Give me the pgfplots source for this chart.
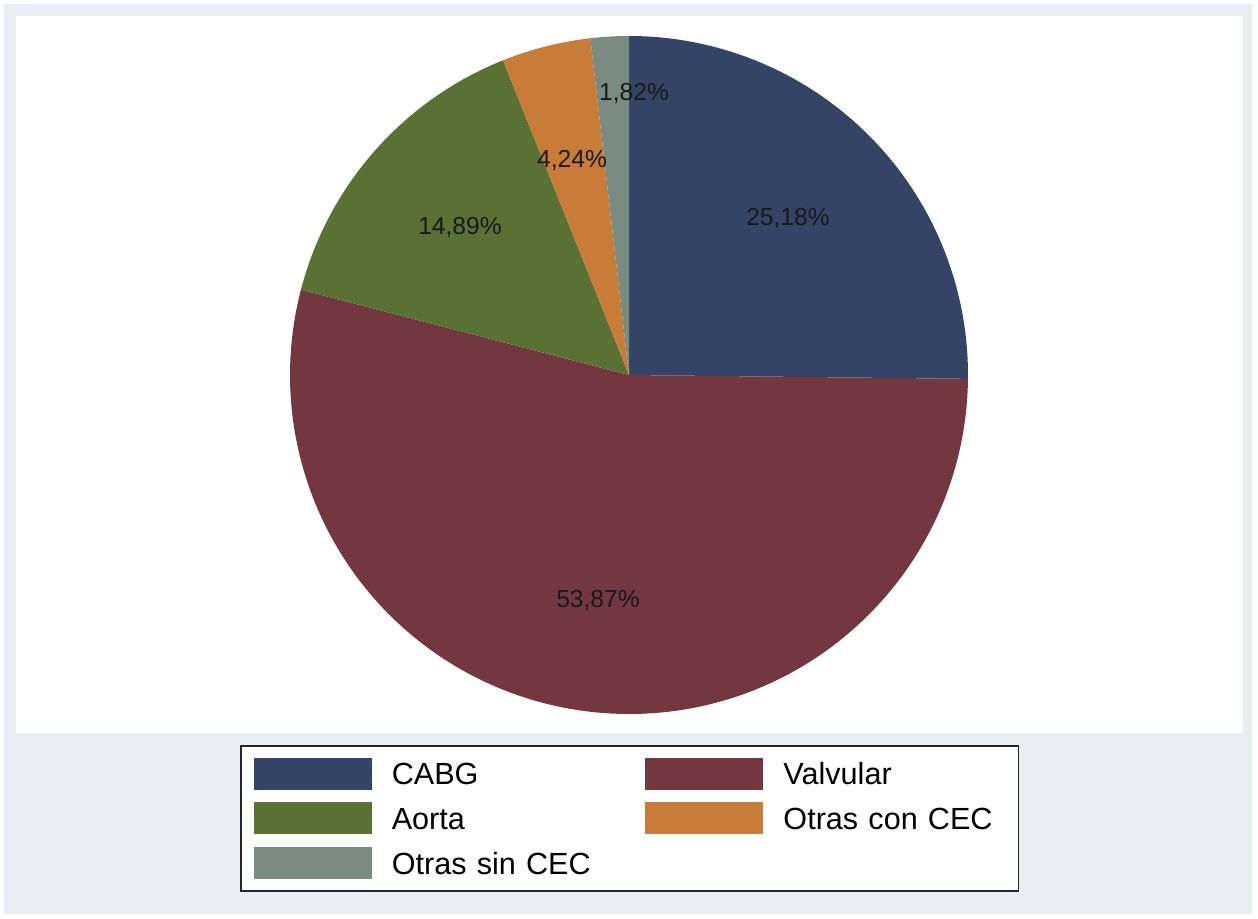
\documentclass[border=0pt]{standalone}
\usepackage{pgfplots}
\pgfplotsset{compat=1.18}
\usepackage{pgfplotstable}
\usepackage{fontspec}
\setmainfont{Liberation Sans}
\definecolor{cabg}{HTML}{344466}
\definecolor{valv}{HTML}{733740}
\definecolor{aorta}{HTML}{5A7134}
\definecolor{ocon}{HTML}{C87C38}
\definecolor{osin}{HTML}{7A8C82}
\definecolor{bgframe}{HTML}{E8EEF1}
\pgfplotstableread{
name pct
CABG 25.18
Valvular 53.87
Aorta 14.89
OtrasCon 4.24
OtrasSin 1.82
}\piedata
\pgfplotstablegetelem{0}{pct}\of\piedata \let\pA\pgfplotsretval
\pgfplotstablegetelem{1}{pct}\of\piedata \let\pB\pgfplotsretval
\pgfplotstablegetelem{2}{pct}\of\piedata \let\pC\pgfplotsretval
\pgfplotstablegetelem{3}{pct}\of\piedata \let\pD\pgfplotsretval
\pgfplotstablegetelem{4}{pct}\of\piedata \let\pE\pgfplotsretval
\pgfmathsetmacro\aA{90-3.6*\pA}
\pgfmathsetmacro\aB{\aA-3.6*\pB}
\pgfmathsetmacro\aC{\aB-3.6*\pC}
\pgfmathsetmacro\aD{\aC-3.6*\pD}
\pgfmathsetmacro\aE{\aD-3.6*\pE}
\begin{document}%
\begin{tikzpicture}
\begin{axis}[
  x=0.5pt, y=0.5pt,
  xmin=0, xmax=1258, ymin=0, ymax=918,
  hide axis, clip=false,
  legend columns=2,
  legend cell align=left,
  legend image code/.code={\fill[#1,draw=none] (0pt,-8pt) rectangle (59pt,8pt);},
  legend style={
    at={(axis cs:240,173)}, anchor=north west,
    draw=black!85, line width=0.75pt, fill=white,
    inner xsep=6.5pt, inner ysep=6pt,
    row sep=6.35pt,
    font=\fontsize{15.3}{18}\selectfont,
    nodes={inner sep=0pt, text height=10.95pt, text depth=0pt, text width=111pt, align=left},
    /tikz/every odd column/.append style={column sep=10pt},
    /tikz/every even column/.append style={column sep=15.85pt},
  },
]
% background frame
\fill[white] (axis cs:0,0) rectangle (axis cs:1258,918);
\fill[bgframe] (axis cs:4,4) rectangle (axis cs:1252,914);
\fill[white] (axis cs:16,185) rectangle (axis cs:1243,902);
% pie slices
\fill[cabg] (axis cs:629,543) -- ++(90:169.5pt) arc[start angle=90, end angle=\aA, radius=169.5pt] -- cycle;
\fill[valv] (axis cs:629,543) -- ++(\aA:169.5pt) arc[start angle=\aA, end angle=\aB, radius=169.5pt] -- cycle;
\fill[aorta] (axis cs:629,543) -- ++(\aB:169.5pt) arc[start angle=\aB, end angle=\aC, radius=169.5pt] -- cycle;
\fill[ocon] (axis cs:629,543) -- ++(\aC:169.5pt) arc[start angle=\aC, end angle=\aD, radius=169.5pt] -- cycle;
\fill[osin] (axis cs:629,543) -- ++(\aD:169.5pt) arc[start angle=\aD, end angle=\aE, radius=169.5pt] -- cycle;
% labels
\begin{scope}[every node/.style={font=\fontsize{12.3}{14}\selectfont, inner sep=0pt, text=black!90}]
\node at (axis cs:788,700) {25,18\%};
\node at (axis cs:598,318) {53,87\%};
\node at (axis cs:460,691) {14,89\%};
\node at (axis cs:572,758) {4,24\%};
\node at (axis cs:634,825) {1,82\%};
\end{scope}
\addlegendimage{fill=cabg}
\addlegendentry{CABG}
\addlegendimage{fill=valv}
\addlegendentry{Valvular}
\addlegendimage{fill=aorta}
\addlegendentry{Aorta}
\addlegendimage{fill=ocon}
\addlegendentry{Otras con CEC}
\addlegendimage{fill=osin}
\addlegendentry{Otras sin CEC}
\end{axis}
\end{tikzpicture}%
\end{document}
